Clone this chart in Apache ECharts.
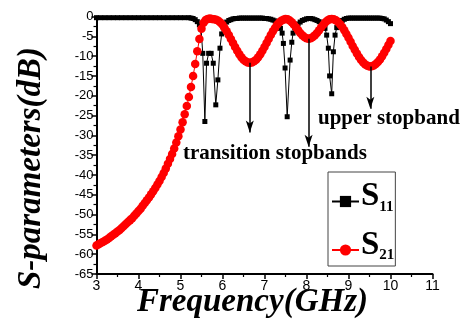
<!DOCTYPE html>
<html>
<head>
<meta charset="utf-8">
<script src="https://cdn.jsdelivr.net/npm/echarts@6/dist/echarts.min.js"></script>
<style>html,body{margin:0;padding:0;background:#fff;}#c{width:465px;height:320px;}</style>
</head>
<body>
<div id="c"></div>
<script>
// ---- data ----
const s11Freq = [3.0,3.1,3.2,3.3,3.4,3.5,3.6,3.7,3.8,3.9,4.0,4.1,4.2,4.3,4.4,4.5,4.6,4.7,4.8,4.9,5.0,5.1,5.2,
  5.25,5.3,5.35,5.4,5.45,5.49,5.53,5.58,5.62,5.67,5.73,5.78,5.84,5.89,5.94,5.98,
  6.01,6.05,6.1,6.15,6.2,6.25,6.3,6.35,6.4,6.45,6.5,6.55,6.6,6.65,6.7,6.75,6.8,6.85,6.9,6.95,7.0,7.05,7.1,7.15,7.2,7.25,7.3,7.34,7.38,
  7.42,7.45,7.49,7.54,7.61,7.65,7.68,
  7.72,7.76,7.8,7.85,7.9,7.95,8.0,8.05,8.1,8.15,8.2,8.25,8.3,8.35,8.4,8.44,
  8.48,8.52,8.55,8.6,8.64,8.68,
  8.72,8.76,8.8,8.85,8.9,8.95,9.0,9.05,9.1,9.15,9.2,9.25,9.3,9.35,9.4,9.45,9.5,9.55,9.6,9.65,9.7,9.75,9.8,9.85,9.9,9.95,10.0];
const s11dB = [-0.3,-0.3,-0.3,-0.3,-0.3,-0.3,-0.3,-0.3,-0.3,-0.3,-0.3,-0.3,-0.3,-0.3,-0.3,-0.3,-0.3,-0.3,-0.3,-0.3,-0.3,-0.3,-0.3,
  -0.4,-0.5,-0.8,-1.3,-2.1,-3.2,-9.3,-26.5,-11.8,-9.3,-9.3,-11.8,-22.3,-16,-8,-4.4,
  -2.6,-1.9,-1.4,-1.0,-0.8,-0.6,-0.5,-0.5,-0.4,-0.4,-0.4,-0.4,-0.4,-0.4,-0.4,-0.4,-0.4,-0.4,-0.4,-0.4,-0.5,-0.5,-0.6,-0.7,-0.9,-1.1,-1.5,-2.1,-3.0,
  -4.2,-6.8,-13,-25.3,-11,-6.5,-4.2,
  -2.9,-2.3,-1.9,-1.4,-1.0,-0.8,-0.6,-0.5,-0.5,-0.6,-0.8,-1.0,-1.3,-1.7,-2.2,-3.0,
  -4.7,-8,-15,-19.5,-8.9,-4.7,
  -2.8,-2.0,-1.5,-1.0,-0.7,-0.5,-0.4,-0.4,-0.4,-0.4,-0.4,-0.4,-0.4,-0.4,-0.4,-0.4,-0.4,-0.4,-0.4,-0.4,-0.4,-0.4,-0.5,-0.6,-0.9,-1.3,-1.8];

const s21Freq = [3.0,3.05,3.1,3.15,3.2,3.25,3.3,3.35,3.4,3.45,3.5,3.55,3.6,3.65,3.7,3.75,3.8,3.85,3.9,3.95,
  4.0,4.05,4.1,4.15,4.2,4.25,4.3,4.35,4.4,4.45,4.5,4.55,4.6,4.65,4.7,4.75,4.8,4.85,4.9,4.95,
  5.0,5.05,5.1,5.15,5.2,5.25,5.3,5.35,5.4,5.45,5.5,5.55,5.6,5.65,5.7,5.75,5.8,5.85,5.9,5.95,
  6.0,6.05,6.1,6.15,6.2,6.25,6.3,6.35,6.4,6.45,6.5,6.55,6.6,6.65,6.7,6.75,6.8,6.85,6.9,6.95,
  7.0,7.05,7.1,7.15,7.2,7.25,7.3,7.35,7.4,7.45,7.5,7.55,7.6,7.65,7.7,7.75,7.8,7.85,7.9,7.95,
  8.0,8.05,8.1,8.15,8.2,8.25,8.3,8.35,8.4,8.45,8.5,8.55,8.6,8.65,8.7,8.75,8.8,8.85,8.9,8.95,
  9.0,9.05,9.1,9.15,9.2,9.25,9.3,9.35,9.4,9.45,9.5,9.55,9.6,9.65,9.7,9.75,9.8,9.85,9.9,9.95,10.0];
const s21dB = [-57.8,-57.5,-57.2,-56.9,-56.6,-56.3,-55.9,-55.5,-55.1,-54.7,-54.3,-53.9,-53.4,-52.9,-52.4,-51.9,-51.4,-50.9,-50.3,-49.7,
  -49.1,-48.5,-47.8,-47.1,-46.4,-45.7,-44.9,-44.1,-43.3,-42.4,-41.5,-40.5,-39.5,-38.4,-37.2,-36.0,-34.7,-33.3,-31.8,-30.2,
  -28.5,-26.7,-24.7,-22.6,-20.3,-17.8,-15.0,-12.0,-8.8,-5.7,-3.1,-1.6,-0.9,-0.6,-0.5,-0.6,-0.7,-0.8,-1.07,-1.5,
  -2.1,-2.9,-3.75,-4.7,-5.7,-6.7,-7.7,-8.65,-9.5,-10.3,-10.9,-11.3,-11.6,-11.7,-11.6,-11.3,-10.9,-10.3,-9.5,-8.65,
  -7.7,-6.7,-5.7,-4.7,-3.75,-2.9,-2.1,-1.5,-1.07,-0.8,-0.6,-0.7,-1.0,-1.46,-2.06,-2.74,-3.46,-4.14,-4.74,-5.2,
  -5.5,-5.6,-5.5,-5.2,-4.74,-4.14,-3.46,-2.74,-2.06,-1.46,-1.0,-0.7,-0.6,-0.69,-0.95,-1.37,-1.94,-2.66,-3.48,-4.4,
  -5.38,-6.39,-7.42,-8.42,-9.36,-10.23,-10.99,-11.62,-12.1,-12.43,-12.59,-12.57,-12.38,-12.02,-11.5,-10.84,-10.06,-9.18,-8.22,-7.21,-6.19];

// annotation arrows (data coords)
const arrowFreq = [6.65, 8.05, 9.52];
const arrowFrom = [-11.7, -5.6, -12.6];
const arrowTo = [-29.3, -32.9, -23.3];
const annotTexts = ['transition stopbands', 'upper stopband'];
const seriesNames = ['S11', 'S21'];

const zip = (a, b) => a.map((v, i) => [v, b[i]]);
const serifB = "'Liberation Serif','Times New Roman',serif";
const sans = "'Liberation Sans',Arial,sans-serif";

const chart = echarts.init(document.getElementById('c'), null, {renderer: 'canvas'});
chart.setOption({
  animation: false,
  grid: {left: 96.5, right: 32.5, top: 16.5, bottom: 46, containLabel: false},
  xAxis: {
    type: 'value', min: 3, max: 11, interval: 1,
    axisLine: {onZero: false, lineStyle: {color: '#000', width: 2}},
    axisTick: {show: true, inside: false, length: 5, lineStyle: {color: '#000', width: 1.5}},
    minorTick: {show: true, splitNumber: 2, length: 3, lineStyle: {color: '#000', width: 1.2}},
    splitLine: {show: false},
    axisLabel: {color: '#000', fontSize: 14, fontFamily: sans, margin: 5}
  },
  yAxis: {
    type: 'value', min: -65, max: 0, interval: 5,
    axisLine: {onZero: false, lineStyle: {color: '#000', width: 2}},
    axisTick: {show: true, inside: false, length: 5, lineStyle: {color: '#000', width: 1.5}},
    minorTick: {show: true, splitNumber: 2, length: 3, lineStyle: {color: '#000', width: 1.2}},
    splitLine: {show: false},
    axisLabel: {color: '#000', fontSize: 13, fontFamily: sans, margin: 3}
  },
  legend: {
    orient: 'vertical', left: 328, top: 172,
    padding: [8, 1, 3, 3], itemGap: 14,
    itemWidth: 27, itemHeight: 14,
    borderColor: '#444', borderWidth: 1,
    data: seriesNames,
    formatter: n => '{a|S}{b|' + n.slice(1) + '}',
    textStyle: {
      padding: [0, 0, 10, -3],
      rich: {
        a: {fontSize: 33, fontWeight: 'bold', fontFamily: serifB, color: '#000', lineHeight: 36},
        b: {fontSize: 15, fontWeight: 'bold', fontFamily: serifB, color: '#000', lineHeight: 4, verticalAlign: 'bottom'}
      }
    }
  },
  series: [
    {
      name: seriesNames[0], type: 'line', data: zip(s11Freq, s11dB),
      symbol: 'rect', symbolSize: 5, showAllSymbol: true,
      itemStyle: {color: '#000'}, lineStyle: {color: '#000', width: 1}, z: 2
    },
    {
      name: seriesNames[1], type: 'line', data: zip(s21Freq, s21dB),
      symbol: 'circle', symbolSize: 8.5, showAllSymbol: true,
      itemStyle: {color: '#ff0000'}, lineStyle: {color: '#ff0000', width: 1}, z: 3,
      markLine: {
        silent: true, symbol: ['none', 'arrow'], symbolSize: [6, 12],
        label: {show: false},
        lineStyle: {color: '#000', width: 1.5, type: 'solid'},
        data: arrowFreq.map((f, i) => [{coord: [f, arrowFrom[i]]}, {coord: [f, arrowTo[i]]}])
      }
    }
  ],
  graphic: [
    {type: 'text', x: 252.5, y: 302, style: {text: 'Frequency(GHz)', font: "italic bold 33px " + serifB, fill: '#000', textAlign: 'center', textVerticalAlign: 'middle'}},
    {type: 'text', x: 31, y: 168, rotation: Math.PI / 2, style: {text: 'S-parameters(dB)', font: "italic bold 33px " + serifB, fill: '#000', textAlign: 'center', textVerticalAlign: 'middle'}},
    {type: 'text', x: 183, y: 154, style: {text: annotTexts[0], font: "bold 21px " + serifB, fill: '#000', textAlign: 'left', textVerticalAlign: 'middle'}},
    {type: 'text', x: 318, y: 119, style: {text: annotTexts[1], font: "bold 21px " + serifB, fill: '#000', textAlign: 'left', textVerticalAlign: 'middle'}}
  ]
});
</script>
</body>
</html>
